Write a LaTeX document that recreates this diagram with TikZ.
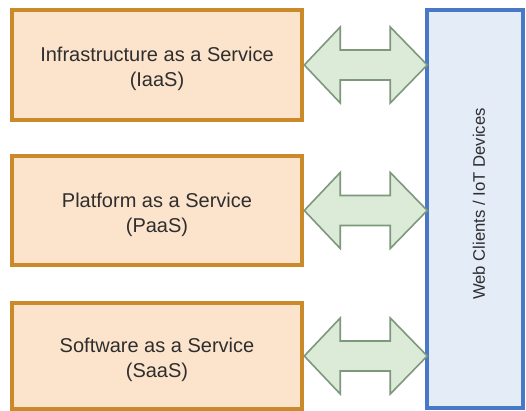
\documentclass[tikz,border=0pt]{standalone}
\usepackage{fontspec}
\setmainfont{Liberation Sans}
\usetikzlibrary{calc}
\definecolor{svcfill}{HTML}{FCE4CC}
\definecolor{svcdraw}{HTML}{CA8A2A}
\definecolor{arrfill}{HTML}{DCEBD8}
\definecolor{arrdraw}{HTML}{7E987C}
\definecolor{webfill}{HTML}{E4ECF8}
\definecolor{webdraw}{HTML}{4A78C8}
\definecolor{txt}{HTML}{2E2E2E}
\tikzset{
  svc/.style={draw=svcdraw, fill=svcfill, line width=4.5pt, minimum width=290pt, inner sep=0pt},
  svctext/.style={align=center, text=txt, font=\fontsize{20}{25}\selectfont, inner sep=0pt},
  web/.style={draw=webdraw, fill=webfill, line width=4pt, minimum width=96pt, minimum height=398pt, inner sep=0pt},
  dbl/.style={draw=arrdraw, fill=arrfill, line width=1.6pt, line join=miter},
}
\newcommand{\dblarrow}[1]{%
  \draw[dbl] (#1.east) -- ++(36,38) -- ++(0,-23) -- ++(50,0) -- ++(0,23) -- ++(37,-38)
    -- ++(-37,-38) -- ++(0,23) -- ++(-50,0) -- ++(0,-23) -- cycle;}
\begin{document}
\begin{tikzpicture}[x=1pt,y=1pt]
\useasboundingbox (0,0) rectangle (526,411);
\fill[white] (0,0) rectangle (526,411);
\node[svc, minimum height=110pt] (iaas) at (157,346) {};
\node[svc, minimum height=109pt] (paas) at (157,200.5) {};
\node[svc, minimum height=106pt] (saas) at (157,55) {};
\node[svctext] (iaast) at ($(iaas.center)+(0,-4)$) {Infrastructure as a Service\\(IaaS)};
\node[svctext] (paast) at ($(paas.center)+(0,-4)$) {Platform as a Service\\(PaaS)};
\node[svctext] (saast) at ($(saas.center)+(0,-4)$) {Software as a Service\\(SaaS)};
\node[web] (webc) at (475,202) {};
\node[rotate=90, text=txt, font=\fontsize{16.7}{18}\selectfont] (webt) at ($(webc.center)+(4,5)$) {Web Clients / IoT Devices};
\dblarrow{iaas}
\dblarrow{paas}
\dblarrow{saas}
\end{tikzpicture}
\end{document}
